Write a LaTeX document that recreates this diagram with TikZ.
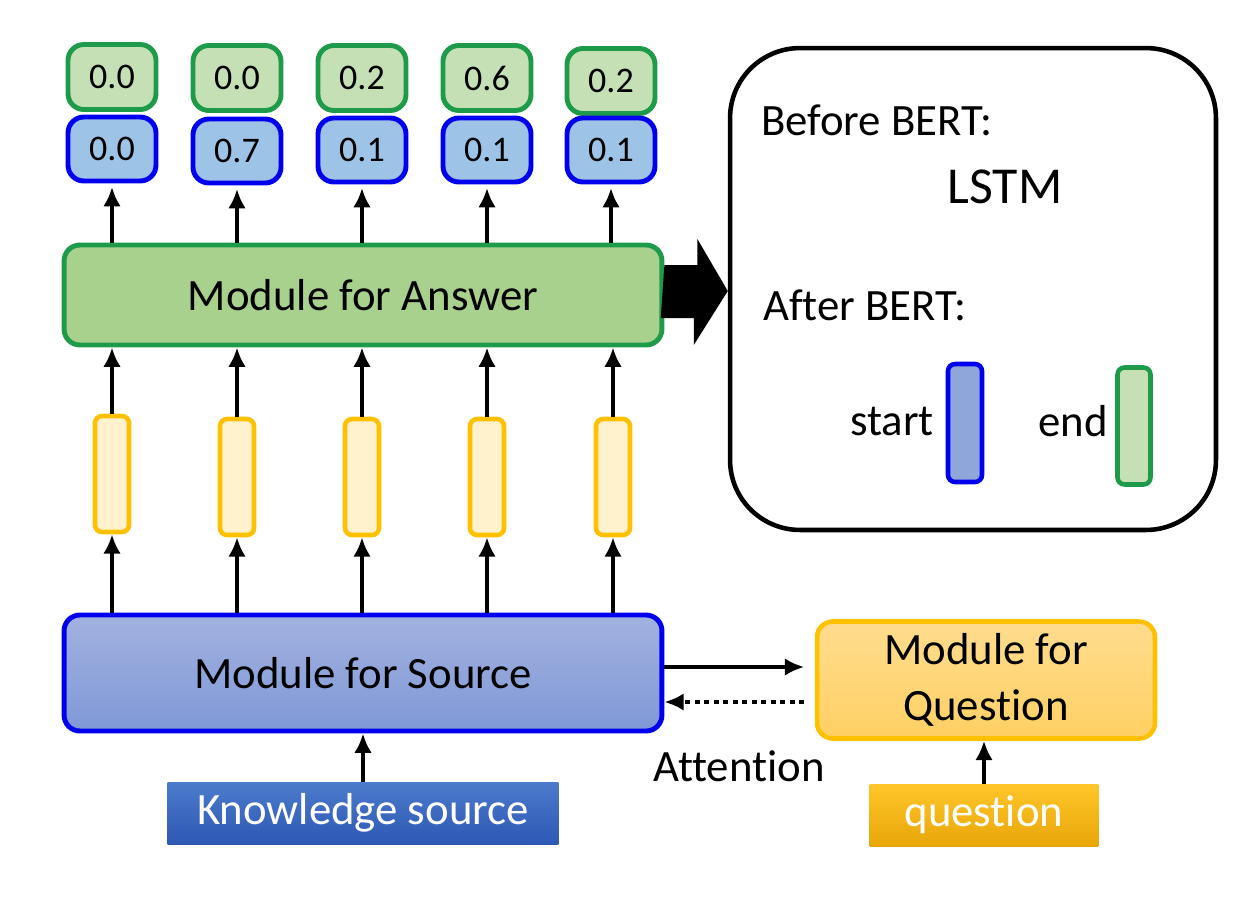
\documentclass[tikz,border=0pt]{standalone}
\usepackage{fontspec}
\setmainfont{Carlito}[Ligatures=NoCommon]
\usetikzlibrary{arrows.meta,calc}
\definecolor{grnF}{HTML}{C5E0B4}
\definecolor{grnD}{HTML}{1E9B4A}
\definecolor{ansF}{HTML}{A9D18E}
\definecolor{bluF}{HTML}{9DC3E6}
\definecolor{bluD}{HTML}{0000EE}
\definecolor{ylwF}{HTML}{FFF2CC}
\definecolor{ylwD}{HTML}{FFC000}
\definecolor{srcT}{HTML}{A2B2E0}
\definecolor{srcB}{HTML}{7F98D6}
\definecolor{qmT}{HTML}{FFDC8E}
\definecolor{qmB}{HTML}{FFD063}
\definecolor{ksT}{HTML}{4C7BCB}
\definecolor{ksB}{HTML}{2D58B4}
\definecolor{qiT}{HTML}{FFC629}
\definecolor{qiB}{HTML}{E8A60A}
\definecolor{stF}{HTML}{8FA6DA}
\begin{document}
\begin{tikzpicture}[x=0.02cm,y=-0.02cm,
  txt/.style={font=\fontsize{25.5}{31}\selectfont},
  numg/.style={draw=grnD,fill=grnF,line width=2.8pt,rounded corners=9pt,minimum width=1.76cm,minimum height=1.3cm,inner sep=0pt,font=\fontsize{20.5}{24}\selectfont},
  numb/.style={draw=bluD,fill=bluF,line width=2.8pt,rounded corners=9pt,minimum width=1.76cm,minimum height=1.28cm,inner sep=0pt,font=\fontsize{20.5}{24}\selectfont},
  hid/.style={draw=ylwD,fill=ylwF,line width=2.6pt,rounded corners=4pt,minimum width=0.68cm,minimum height=2.32cm,inner sep=0pt},
  bigbox/.style={line width=2.8pt,rounded corners=9pt,minimum width=11.96cm,inner sep=0pt,txt},
  arr/.style={line width=2.6pt,-{Latex[length=11pt,width=10pt]}},
  inbox/.style={minimum height=1.24cm,inner sep=0pt,text=white,txt}
]
\useasboundingbox (0,0) rectangle (1250,904);

% top outputs
\node[numg] (g1) at (112,77) {0.0};
\node[numg] (g2) at (237,78) {0.0};
\node[numg] (g3) at (362,78) {0.2};
\node[numg] (g4) at (487,78) {0.6};
\node[numg] (g5) at (611,81) {0.2};
\node[numb] (b1) at (112,149) {0.0};
\node[numb] (b2) at (237,151) {0.7};
\node[numb] (b3) at (362,150) {0.1};
\node[numb] (b4) at (487,150) {0.1};
\node[numb] (b5) at (611,150) {0.1};

% module for answer
\node[bigbox,draw=grnD,fill=ansF,minimum height=2.0cm] (ans) at (363,295) {Module for Answer};

% hidden vectors
\node[hid] (h1) at (112,474) {};
\node[hid] (h2) at (237,477) {};
\node[hid] (h3) at (362,477) {};
\node[hid] (h4) at (487,477) {};
\node[hid] (h5) at (613,477) {};

% module for source
\node[bigbox,draw=bluD,top color=srcT,bottom color=srcB,minimum height=2.32cm] (src) at (363,673) {Module for Source};

% module for question
\node[draw=ylwD,top color=qmT,bottom color=qmB,line width=2.6pt,rounded corners=9pt,minimum width=6.76cm,minimum height=2.34cm,align=center,font=\fontsize{25.5}{31.5}\selectfont] (qm) at (986,680) {Module for\\Question};

% inputs
\node[inbox,top color=ksT,bottom color=ksB,minimum width=7.82cm] (ks) at (363,813) {Knowledge source};
\node[inbox,top color=qiT,bottom color=qiB,minimum width=4.58cm] (qi) at (984,815) {question};

\node[txt] (att) at (739,766) {Attention};

% right box
\node[draw=black,line width=2.6pt,rounded corners=1.4cm,minimum width=9.72cm,minimum height=9.64cm] (rb) at (973,289) {};
\node[txt,anchor=west] (before) at (755,120) {Before BERT:};
\node[font=\fontsize{29.5}{34}\selectfont] (lstm) at (1005,187) {LSTM};
\node[txt,anchor=west] (after) at (757,305) {After BERT:};
\node[draw=bluD,fill=stF,line width=2.6pt,rounded corners=4pt,minimum width=0.68cm,minimum height=2.36cm,inner sep=0pt] (stb) at (965,423) {};
\node[draw=grnD,fill=grnF,line width=2.6pt,rounded corners=4pt,minimum width=0.66cm,minimum height=2.34cm,inner sep=0pt] (enb) at (1134,426) {};
\node[txt,anchor=east] (stt) at (940,421) {start};
\node[txt,anchor=east] (ent) at (1114,421) {end};

% arrows
\foreach \i in {1,...,5}{
  \draw[arr,shorten >=2pt] (b\i |- ans.north) -- (b\i.south);
  \draw[arr] (h\i.north) -- (h\i |- ans.south);
  \draw[arr] (h\i |- src.north) -- (h\i.south);
}
\draw[arr] (ks.north) -- (src.south);
\draw[arr] (qi.north) -- (qi |- qm.south);
\draw[arr,shorten >=6pt] (src.east |- 0,667) -- (qm.west |- 0,667);
\draw[line width=2.8pt,dash pattern=on 2.8pt off 2.6pt,-{Latex[length=11pt,width=10pt]},shorten <=6pt] (qm.west |- 0,702) -- (src.east |- 0,702);

% big arrow
\fill[black] ($(ans.east)+(0,-30)$) -- ++(33,0) -- ++(0,-26) -- ($(rb.west)+(0,2)$) -- ++(-34,54) -- ++(0,-27) -- ++(-33,0) -- cycle;
\end{tikzpicture}
\end{document}
